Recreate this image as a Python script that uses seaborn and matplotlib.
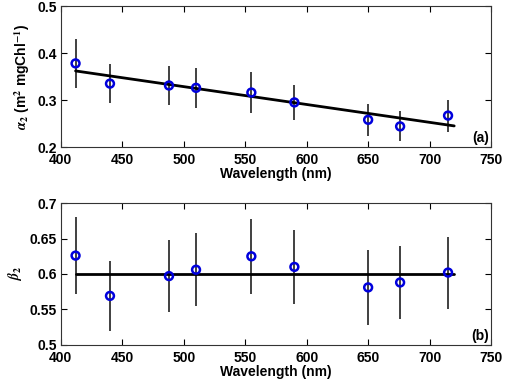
import numpy as np
import pandas as pd
import matplotlib
matplotlib.use("Agg")
import matplotlib.pyplot as plt
import seaborn as sns

# datos
longitudes = [412, 440, 488, 510, 555, 590, 650, 676, 715]
alfa2 = [0.378, 0.335, 0.331, 0.326, 0.316, 0.295, 0.258, 0.244, 0.267]
alfa2_err = [0.053, 0.042, 0.042, 0.042, 0.043, 0.038, 0.034, 0.032, 0.034]
beta2 = [0.626, 0.569, 0.597, 0.606, 0.625, 0.610, 0.581, 0.588, 0.602]
beta2_err = [0.055, 0.050, 0.051, 0.052, 0.053, 0.052, 0.053, 0.052, 0.051]

ajuste_x = [412, 720]
ajuste_alfa = [0.362, 0.245]
ajuste_beta = [0.600, 0.600]

sns.set_style("ticks")
plt.rcParams['font.family'] = ['Liberation Sans', 'DejaVu Sans']
plt.rcParams['font.weight'] = 'bold'
plt.rcParams['mathtext.fontset'] = 'stix'
for k in ['text.color', 'axes.labelcolor', 'xtick.color', 'ytick.color', 'axes.edgecolor']:
    plt.rcParams[k] = 'black'

fig = plt.figure(figsize=(5.11, 3.80), dpi=100)
ax1 = fig.add_axes([0.119, 0.613, 0.842, 0.371])
ax2 = fig.add_axes([0.119, 0.093, 0.842, 0.372])


def panel(ax, y, yerr, fit_y, ylim, yticks, ytl, ylabel, etiqueta):
    df = pd.DataFrame({'wl': longitudes, 'v': y})
    ax.errorbar(longitudes, y, yerr=yerr, fmt='none', ecolor='#404040',
                elinewidth=1.4, capsize=0, zorder=1)
    sns.lineplot(x=ajuste_x, y=fit_y, ax=ax, color='black', linewidth=2, zorder=2)
    sns.scatterplot(data=df, x='wl', y='v', ax=ax, marker='o', s=32,
                    facecolor='none', edgecolor='#0000dd', linewidth=1.8, zorder=3)
    ax.set_xlim(400, 750)
    ax.set_ylim(*ylim)
    ax.set_xticks([400, 450, 500, 550, 600, 650, 700, 750])
    ax.set_yticks(yticks)
    ax.set_yticklabels(ytl)
    ax.tick_params(direction='in', top=True, right=True, labelsize=10,
                   length=4, width=0.8)
    ax.tick_params(axis='x', pad=4.5)
    ax.tick_params(axis='y', pad=3)
    for lab in ax.get_xticklabels() + ax.get_yticklabels():
        lab.set_fontweight('bold')
    ax.set_xlabel('Wavelength (nm)', fontsize=10, fontweight='bold', labelpad=0)
    ax.set_ylabel(ylabel, fontsize=10, fontweight='bold', labelpad=4)
    ax.text(0.995, 0.015, etiqueta, transform=ax.transAxes, ha='right',
            va='bottom', fontsize=10, fontweight='bold')
    for s in ax.spines.values():
        s.set_linewidth(0.8)
        s.set_color('#333333')


panel(ax1, alfa2, alfa2_err, ajuste_alfa, (0.2, 0.5), [0.2, 0.3, 0.4, 0.5],
      ['0.2', '0.3', '0.4', '0.5'], r'$\alpha_2$ (m$^\mathbf{2}$ mgChl$^\mathbf{-1}$)', '(a)')
panel(ax2, beta2, beta2_err, ajuste_beta, (0.5, 0.7),
      [0.5, 0.55, 0.6, 0.65, 0.7], ['0.5', '0.55', '0.6', '0.65', '0.7'],
      r'$\beta_2$', '(b)')

fig.savefig('out.png', dpi=100)
